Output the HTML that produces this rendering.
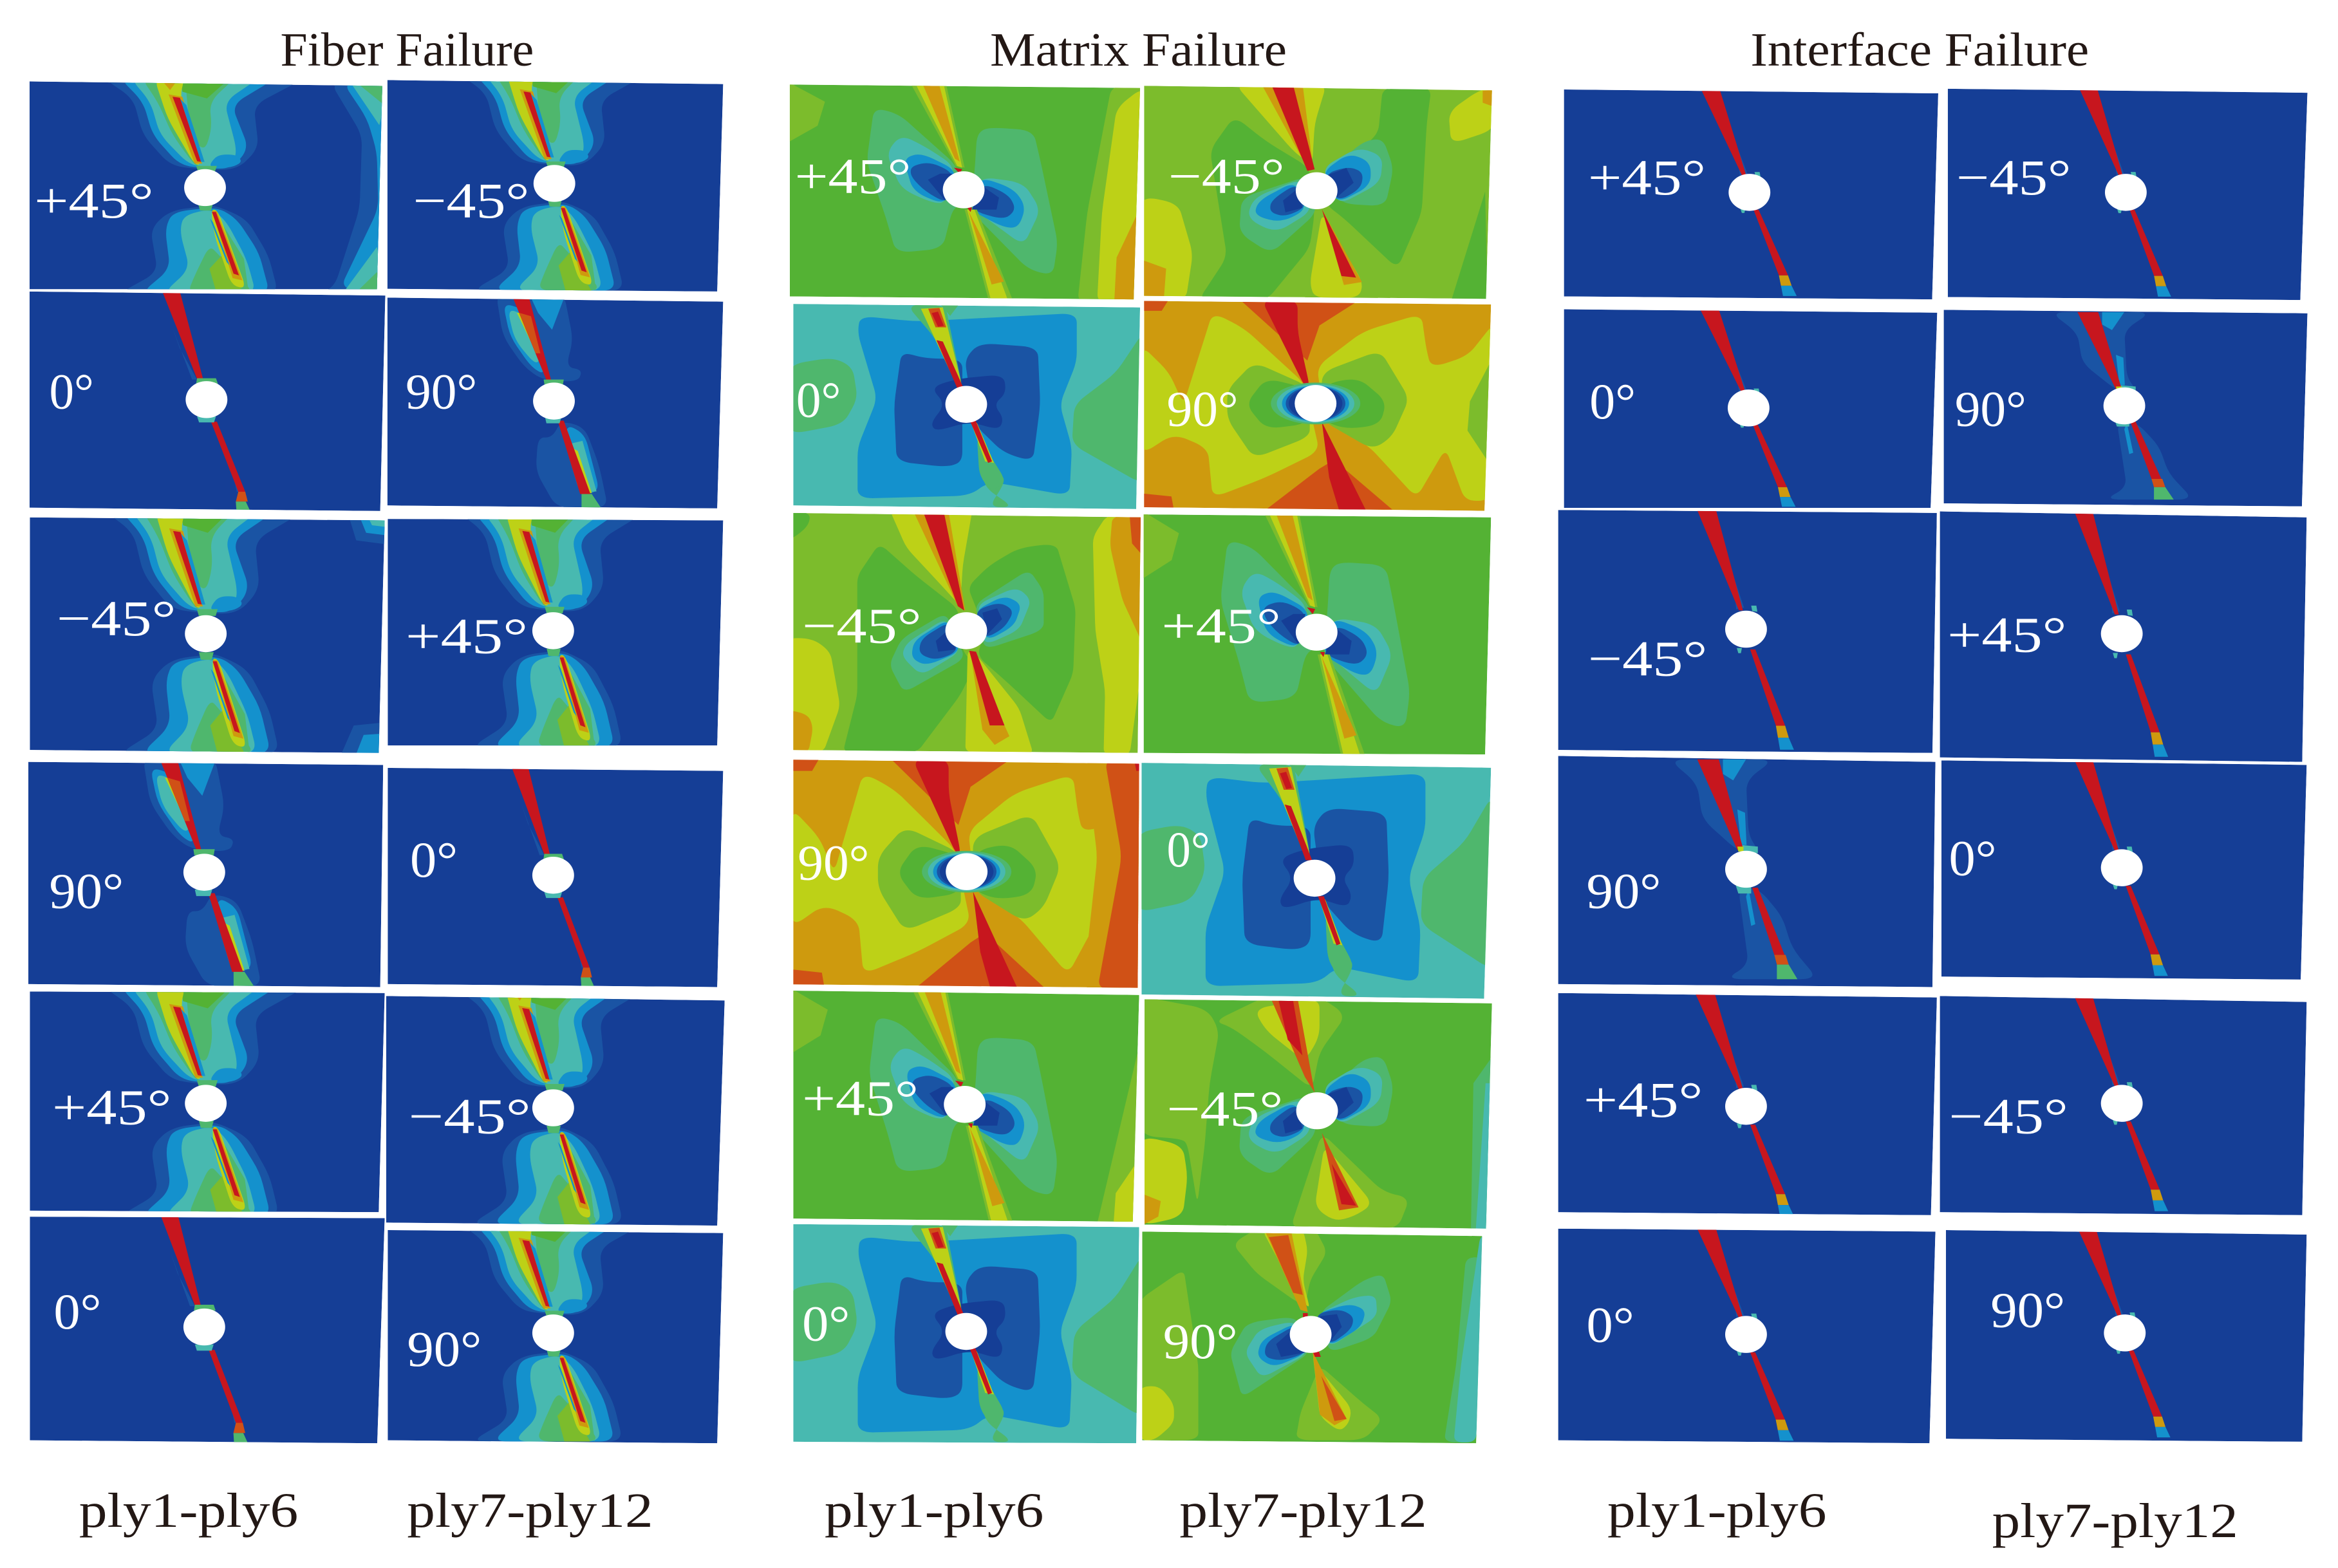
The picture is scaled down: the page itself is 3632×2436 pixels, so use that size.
<!DOCTYPE html>
<html lang="en">
<head>
<meta charset="utf-8">
<title>Fiber, Matrix and Interface Failure contours</title>
<style>
html,body{margin:0;padding:0;background:#fff;}
svg{display:block;}
text{font-family:"Liberation Serif",serif;}
</style>
</head>
<body>
<svg id="figure" xmlns="http://www.w3.org/2000/svg" width="3632" height="2436" viewBox="0 0 1568 1051.63">
  <rect x="0" y="0" width="1568" height="1051.63" fill="#ffffff"/>
  <g id="panels"></g>
  <g fill="#231815" font-size="32">
    <text x="188" y="44" textLength="170" lengthAdjust="spacingAndGlyphs">Fiber Failure</text>
    <text x="664" y="44" textLength="199" lengthAdjust="spacingAndGlyphs">Matrix Failure</text>
    <text x="1174" y="44" textLength="227" lengthAdjust="spacingAndGlyphs">Interface Failure</text>
  </g>
  <g fill="#231815" font-size="33">
    <text x="53" y="1024" textLength="147" lengthAdjust="spacingAndGlyphs">ply1-ply6</text>
    <text x="273" y="1024" textLength="165" lengthAdjust="spacingAndGlyphs">ply7-ply12</text>
    <text x="553" y="1024" textLength="147" lengthAdjust="spacingAndGlyphs">ply1-ply6</text>
    <text x="791" y="1024" textLength="166" lengthAdjust="spacingAndGlyphs">ply7-ply12</text>
    <text x="1078" y="1024" textLength="147" lengthAdjust="spacingAndGlyphs">ply1-ply6</text>
    <text x="1336" y="1031" textLength="165" lengthAdjust="spacingAndGlyphs">ply7-ply12</text>
  </g>
</svg>
<script>
var NAVY="#153e96",B2="#1a54a4",B3="#1491cd",TE="#48b9b0",G1="#4fb76d",G2="#54b234",G3="#7cbc2c",YE="#bdd117",OR="#ce9a0e",O2="#d05116",RE="#c7161e";

var fiberScale={kx:1/3.026,ky:1/4.429,refW:235,refH:139};
var matrixScale={kx:1/3.026,ky:1/5.044,refW:234,refH:140};
var matrixYScale={kx:1/3.026,ky:1/6.86,refW:233,refH:159};
var matrixGScale={kx:1/3.026,ky:1/6.9,refW:229,refH:141};
var matrixFScale={kx:1/3.026,ky:1/4.778,refW:233,refH:152};
var interfaceScale={kx:1/2.948,ky:1/5.044,refW:248,refH:139};

var F45shapes=[
[B2,"205,225 270,290 290,400 345,490 400,502 480,505 525,440 515,310 625,225"],
[B3,"240,225 290,300 310,400 365,490 420,500 470,500 505,440 470,310 565,225"],
[TE,"262,225 305,300 325,400 385,490 430,495 475,480 480,440 455,300 530,225"],
[G1,"375,225 380,300 385,400 415,450 430,380 425,300 480,225"],
[G1,"285,225 320,300 350,400 395,490 405,490 365,290 345,225"],
[G2,"365,225 370,270 420,290 470,225"],
[B3,"425,488 442,458 480,458 492,480 470,497 432,497"],
[G1,"398,492 440,492 436,510 402,510"],
[YE,"312,225 340,350 395,488 408,488 365,285 375,225"],
[OR,"342,278 370,285 410,485 395,485"],
[RE,"350,285 365,288 408,480 400,478"],
[B3,"366,292 378,310 415,480 408,480"],
[B2,"345,625 305,680 320,810 240,875 565,875 545,760 500,650 440,612 420,612"],
[B3,"350,630 335,680 345,800 285,875 548,875 525,750 480,650 440,615"],
[TE,"372,640 365,690 385,800 330,875 520,875 500,770 460,660 430,620"],
[G1,"395,820 425,730 445,760 490,830 515,875 380,875"],
[G1,"440,640 495,770 505,875 460,800"],
[G3,"425,800 450,760 495,875 440,875"],
[YE,"428,622 442,625 500,860 470,850 435,700"],
[OR,"430,625 440,628 492,835 472,828"],
[RE,"430,630 438,630 485,820 474,815"],
[B3,"426,650 432,660 466,790 460,780"],
[G1,"402,606 432,606 428,626 406,626"]
];
var F45topOrange=[[OR,"322,225 345,265 365,225"]];
var F45sideShapes=[
[B2,"670,240 735,400 730,620 680,850 650,875 790,875 790,240"],
[B3,"695,240 745,350 765,450 768,620 690,860 790,875 790,240"],
[TE,"715,250 770,370 790,250"],
[G1,"730,250 780,310 790,250"],
[TE,"695,875 765,735 790,875"],
[G1,"720,875 765,810 790,875"],
[OR,"322,225 345,265 365,225"]
];
var F45cornerShapes=[
[B2,"700,225 720,310 790,322 790,225"],
[B3,"720,225 740,290 790,298 790,225"],
[TE,"735,225 752,270 790,276 790,225"],
[B2,"690,875 715,800 790,790 790,875"],
[B3,"720,875 735,825 790,820 790,875"]
];
var F0shapes=[
[B2,"350,980 365,1040 400,1130 390,1130"],
[B2,"462,1330 490,1450 480,1450"],
[RE,"322,850 360,850 412,1128 400,1128"],
[RE,"428,1250 440,1250 497,1450 483,1450"],
[O2,"483,1450 497,1450 502,1478 478,1478"],
[G1,"478,1478 498,1478 512,1520 480,1520"],
[G1,"400,1126 438,1126 442,1142 398,1142"],
[TE,"400,1235 438,1235 434,1252 404,1252"]
];
var F90shapes=[
[B2,"1000,870 1015,1000 1060,1090 1100,1130 1175,1135 1185,1100 1150,1090 1165,1010 1145,870"],
[B3,"1015,900 1030,1000 1075,1090 1105,1115 1095,1000 1060,920"],
[B3,"1070,870 1150,870 1120,980 1090,930"],
[TE,"1025,920 1040,1010 1085,1085 1098,1060 1055,930"],
[YE,"1045,930 1090,1060 1098,1050 1068,930"],
[RE,"1032,870 1068,870 1118,1130 1108,1130"],
[O2,"1050,930 1075,940 1095,1050 1085,1050"],
[G1,"1102,1128 1145,1128 1143,1145 1104,1145"],
[B2,"1090,1300 1085,1400 1130,1510 1240,1510 1220,1380 1190,1270 1140,1250 1120,1300"],
[B3,"1150,1260 1190,1290 1222,1460 1180,1470 1150,1330"],
[TE,"1155,1320 1185,1310 1215,1460 1180,1465"],
[YE,"1155,1325 1175,1340 1205,1465 1180,1465"],
[RE,"1132,1250 1145,1250 1202,1468 1180,1468"],
[G1,"1183,1468 1205,1468 1225,1510 1183,1510"],
[TE,"1105,1240 1140,1240 1136,1258 1108,1258"]
];
var M45pBase=[
[G3,"25,60 105,130 90,210 25,270"],
[G1,"205,150 255,170 310,250 375,345 385,470 365,490 345,620 250,635 230,520 190,330"],
[G1,"415,240 435,215 530,225 545,330 580,600 570,710 520,690 400,490 410,370"],
[TE,"230,300 260,240 310,280 370,345 350,470 320,465 260,420"],
[TE,"420,380 510,400 545,490 510,610 410,490"],
[B3,"265,320 300,300 375,360 350,475 285,430"],
[B3,"420,380 490,420 515,480 500,550 470,550 400,490"],
[B2,"280,345 320,330 370,370 355,470 310,430 280,380"],
[B2,"425,400 480,440 495,490 470,525 400,490"],
[NAVY,"315,390 340,370 365,370 350,460"],
[NAVY,"425,410 460,450 455,490 405,490"],
[G3,"275,55 350,55 390,350 372,345"],
[YE,"285,55 345,55 385,350 375,345"],
[OR,"300,55 335,55 380,330 370,320"],
[RE,"368,350 385,355 380,370"],
[G3,"390,490 415,490 490,800 440,800"],
[YE,"395,490 410,490 480,800 445,800"],
[OR,"398,495 470,730 445,740"],
[RE,"395,483 405,483 402,498"]
];
var M45pRight=[
[G3,"620,805 640,500 690,75 755,75 745,805"],
[YE,"660,805 670,500 700,150 755,80 745,805"],
[OR,"695,805 700,650 755,460 745,805"]
];
var M45pRightSmall=[
[G3,"660,805 700,550 755,200 745,805"],
[YE,"695,805 700,700 745,600 735,805"]
];
var M45nButterfly=[
[G1,"1090,375 950,450 945,570 1010,640 1105,500"],
[G1,"1130,360 1200,260 1240,250 1262,350 1245,480 1150,470"],
[TE,"1075,385 975,450 960,520 1020,570 1095,495"],
[TE,"1115,350 1190,280 1240,310 1235,400 1150,475"],
[B3,"1060,395 985,460 975,510 1030,535 1085,490"],
[B3,"1115,365 1170,300 1215,330 1215,410 1145,470"],
[B2,"1065,400 1010,460 1008,500 1040,515 1085,480"],
[B2,"1120,370 1170,345 1200,365 1195,420 1145,465"],
[NAVY,"1065,420 1035,460 1040,500 1075,485"],
[NAVY,"1125,375 1165,350 1180,400 1145,450"]
];
var M45nShapes=[
[G2,"860,800 920,650 885,290 935,175 1000,260 1090,350 1100,500 1090,620 1000,800"],
[G2,"1135,350 1230,240 1240,75 1340,75 1330,200 1320,500 1270,690 1160,520 1120,470"],
[G2,"1450,430 1380,800 1455,800"]
];
var M45nStrips=[
[YE,"935,65 1125,65 1100,200 1095,340 1060,300"],
[OR,"990,65 1075,65 1097,350 1085,350"],
[RE,"1010,65 1055,65 1100,355 1085,360"],
[G3,"1110,500 1220,700 1230,790 1080,790"],
[YE,"1115,500 1200,740 1190,790 1100,790 1090,740"],
[OR,"1115,490 1197,735 1160,745"],
[RE,"1115,490 1185,720 1155,715"],
[YE,"745,445 820,470 850,640 835,800 745,800"],
[OR,"745,660 795,690 790,800 745,800"],
[YE,"1375,160 1440,85 1470,85 1470,220 1380,270"],
[OR,"1445,90 1470,85 1470,145 1445,130"]
];
var M45yShapes=[
[G2,"170,350 215,200 290,350 375,500 385,700 410,760 380,900 290,1170 140,1170 170,900"],
[G2,"395,400 440,300 500,220 575,200 615,500 610,800 565,1030 480,850 415,720 430,600"],
[G2,"25,40 75,60 70,120 40,175 25,180"],
[G1,"350,520 260,640 235,760 265,890 390,730"],
[G1,"410,480 520,320 550,420 550,600 430,690"],
[TE,"350,545 270,660 260,720 300,810 380,700"],
[TE,"415,480 495,400 525,460 500,600 430,670"],
[B3,"355,550 285,650 280,730 310,765 380,700"],
[B3,"410,510 470,440 505,480 490,580 435,650"],
[B2,"358,560 300,640 295,710 330,740 375,700"],
[B2,"410,510 460,470 490,510 470,590 430,640"],
[NAVY,"360,590 330,650 335,700 370,690"],
[NAVY,"425,520 455,500 465,550 435,620"],
[YE,"235,40 405,40 385,300 380,490 340,390 270,220"],
[OR,"282,40 355,40 390,510 375,490"],
[RE,"302,40 345,40 388,510 375,490"],
[YE,"395,690 415,720 500,960 530,1180 390,1170"],
[OR,"400,695 480,1090 450,1130 425,1060"],
[RE,"398,695 412,700 470,1040 440,1040"],
[YE,"650,170 680,65 755,65 755,680 725,1180 672,1180 675,880 655,600"],
[OR,"690,70 755,70 755,680 710,460 685,210"],
[O2,"725,70 755,70 755,265 730,200"],
[YE,"25,635 80,640 115,700 135,950 100,1170 25,1170"],
[OR,"25,965 70,990 80,1050 70,1170 25,1170"]
];
var M45gShapes=[
[G3,"740,390 830,250 860,700 860,1050 740,1050"],
[G3,"930,130 980,60 1100,60 1125,170 1090,300 1080,420 1060,400 980,270"],
[G3,"1110,700 1200,880 1240,950 1200,1050 1060,1050 1070,920"],
[YE,"740,800 780,795 810,880 810,970 770,1050 740,1050"],
[G1,"1060,470 960,500 925,640 950,850 1090,640"],
[G1,"1110,450 1200,300 1240,270 1258,400 1220,570 1130,640"],
[TE,"1060,490 985,530 955,640 990,760 1085,645"],
[TE,"1105,460 1180,380 1225,370 1228,470 1130,615"],
[B3,"1060,500 990,580 980,660 1015,710 1085,640"],
[B3,"1100,460 1170,410 1205,440 1195,520 1130,610"],
[B2,"1060,510 1000,590 995,660 1030,680 1085,640"],
[B2,"1100,460 1150,435 1180,470 1175,530 1130,605"],
[NAVY,"1060,520 1020,600 1030,660 1080,640"],
[NAVY,"1110,470 1145,460 1155,520 1130,590"],
[YE,"990,60 1075,60 1085,160 1075,300 1090,440 1060,360"],
[OR,"995,60 1050,60 1085,450 1070,440"],
[O2,"1005,100 1045,90 1075,370 1055,360"],
[RE,"1075,455 1085,455 1085,475 1075,475"],
[YE,"1095,640 1110,720 1175,900 1170,970 1150,1010 1110,940"],
[OR,"1095,635 1165,950 1140,980 1110,930"],
[O2,"1113,750 1165,950 1140,960"],
[RE,"1095,635 1108,635 1112,660 1100,660"],
[G1,"1365,1060 1390,700 1410,200 1440,190 1425,1060"],
[TE,"1385,1060 1400,700 1440,90 1470,90 1430,1060"]
];
var M45fShapes=[
[G3,"745,820 880,860 905,930 885,1100 875,1300 860,1490 840,1300 830,1280 745,1270"],
[G3,"895,900 930,920 1000,1000 1095,1120 1110,1000 1165,880 1110,820 1000,820"],
[G3,"1115,1260 1240,1450 1295,1470 1270,1570 1050,1570 1075,1450"],
[YE,"745,1270 830,1300 840,1400 830,1530 745,1560"],
[OR,"745,1455 785,1480 780,1530 745,1560"],
[YE,"975,860 1110,825 1110,950 1080,1030 1000,930"],
[O2,"1010,825 1065,825 1100,1130 1080,1080"],
[RE,"1025,825 1055,825 1075,1010 1045,960"],
[YE,"1120,1300 1220,1490 1180,1530 1140,1545 1100,1500"],
[O2,"1115,1260 1190,1500 1150,1510"],
[RE,"1135,1360 1185,1495 1155,1490"],
[G1,"1425,1100 1470,1000 1470,1570 1420,1570"],
[TE,"1450,1100 1470,1100 1470,1570 1430,1570"]
];
var M0shapes=[
[G1,"30,1010 120,985 160,1020 170,1130 140,1220 30,1255"],
[G1,"755,900 755,1430 610,1290 615,1150 700,1040"],
[B3,"175,840 290,860 620,830 620,1000 585,1150 610,1300 605,1470 440,1420 400,1470 170,1480 170,1300 210,1130 170,900"],
[B2,"260,965 310,990 385,990 385,1350 355,1370 250,1350 245,1150"],
[B2,"390,990 420,935 540,950 545,1150 530,1350 470,1320 410,1220"],
[NAVY,"320,1090 375,1060 470,1045 475,1110 450,1150 470,1200 460,1240 400,1210 330,1245 320,1215 350,1150"],
[G1,"270,800 350,800 385,1090 375,1090 330,920"],
[G1,"340,800 378,800 360,840"],
[YE,"300,815 345,810 385,1090 375,1090"],
[O2,"315,815 338,812 352,880 330,880"],
[RE,"322,830 335,825 347,875 335,878"],
[RE,"332,925 345,930 388,1095 375,1095"],
[G1,"425,1350 470,1400 470,1430 440,1510 490,1510 430,1440"],
[G1,"415,1260 450,1350 475,1420 445,1455 420,1400"],
[YE,"403,1215 415,1215 450,1355 432,1350"],
[RE,"400,1205 412,1205 446,1350 438,1355"]
];
var M90shapes=[
[O2,"945,790 1195,790 1110,880 1085,1000"],
[O2,"1000,1510 1110,1370 1140,1340 1260,1510"],
[RE,"990,790 1065,790 1065,900 1090,1090 1080,1090"],
[RE,"1115,1210 1205,1510 1150,1510 1130,1400"],
[O2,"745,790 800,790 785,830 745,830"],
[O2,"745,1455 805,1465 810,1510 745,1510"],
[YE,"890,835 955,890 1080,1080 1095,1200 1110,1310 1000,1400 890,1470 880,1300 810,1250 745,1320 745,950 800,1040 830,1150"],
[YE,"1105,1020 1200,900 1320,840 1330,960 1340,1025 1415,985 1470,870 1460,1480 1410,1480 1370,1300 1310,1470 1210,1290 1120,1210"],
[G3,"975,1005 1090,1090 1090,1210 1090,1260 975,1335 920,1200 920,1100"],
[G3,"1115,1040 1235,965 1295,1130 1260,1260 1220,1305 1115,1205"],
[G3,"1420,1140 1470,980 1455,1340 1415,1240"],
[G2,"1000,1060 1085,1095 1090,1215 1000,1235 958,1150"],
[G2,"1120,1080 1190,1058 1248,1140 1235,1220 1165,1235 1115,1205"]
];
var M90sideShapes=[
[OR,"1345,790 1370,1100 1340,1520 1470,1520 1470,790"],
[O2,"1385,790 1420,1100 1370,1520 1470,1520 1470,790"],
[RE,"1445,790 1470,790 1470,830 1450,830"]
];
var I0shapes=[
[B2,"378,270 400,370 385,375"],
[RE,"305,70 343,70 398,378 390,378"],
[RE,"412,492 422,492 480,715 462,715"],
[OR,"462,715 480,715 487,750 466,750"],
[B3,"466,750 487,750 497,785 470,785"],
[TE,"414,364 424,364 426,382 416,380"],
[TE,"386,488 396,488 394,503 389,503"]
];
var I90shapes=[
[B2,"995,815 1050,890 1060,1000 1130,1100 1170,1100 1150,1050 1145,880 1200,815"],
[B2,"1130,1215 1150,1450 1105,1495 1285,1495 1235,1400 1215,1300 1170,1215"],
[B3,"1100,815 1145,815 1120,880 1100,860"],
[B3,"1128,970 1143,980 1146,1080 1135,1080"],
[B3,"1150,1215 1163,1325 1155,1330 1145,1240"],
[TE,"1135,1080 1168,1085 1168,1105 1135,1105"],
[TE,"1125,1205 1155,1205 1155,1230 1130,1230"],
[RE,"1050,815 1092,815 1140,1095 1128,1095"],
[RE,"1157,1212 1168,1212 1220,1420 1200,1420"],
[O2,"1200,1420 1222,1420 1228,1450 1205,1450"],
[G1,"1205,1450 1228,1450 1245,1495 1205,1495"],
[YE,"1128,1085 1140,1085 1140,1100 1130,1100"]
];

function shiftShapes(list,dx,dy){
  return list.map(function(s){
    return [s[0],s[1].split(" ").map(function(p){
      var a=p.split(",");
      return (+a[0]+dx)+","+(+a[1]+dy);
    }).join(" ")];
  });
}

var templates={
 F45:{base:NAVY,ox:416,oy:557,scale:fiberScale,layers:[F45shapes,F45sideShapes]},
 F45b:{base:NAVY,ox:416,oy:557,scale:fiberScale,layers:[F45shapes]},
 F45c:{base:NAVY,ox:416,oy:557,scale:fiberScale,layers:[F45shapes,F45topOrange]},
 F45d:{base:NAVY,ox:416,oy:557,scale:fiberScale,layers:[F45shapes,F45cornerShapes]},
 F0:{base:NAVY,ox:419,oy:1187,scale:fiberScale,layers:[F0shapes]},
 F90:{base:NAVY,ox:1124,oy:1192,scale:fiberScale,layers:[F90shapes]},
 M45p:{base:G2,ox:388,oy:424,scale:matrixScale,layers:[M45pBase,M45pRight]},
 M45pPlain:{base:G2,ox:388,oy:424,scale:matrixScale,layers:[M45pBase]},
 M45pSmall:{base:G2,ox:388,oy:424,scale:matrixScale,layers:[M45pBase,M45pRightSmall]},
 M45n:{base:G3,ox:1104,oy:427,scale:matrixScale,layers:[M45nShapes,M45nButterfly,M45nStrips]},
 M45y:{base:G3,ox:392,oy:603,scale:matrixYScale,layers:[M45yShapes]},
 M45g:{base:G2,ox:1091,oy:555,scale:matrixGScale,layers:[M45gShapes]},
 M45f:{base:G2,ox:1105,oy:1189,scale:matrixFScale,layers:[M45fShapes,shiftShapes(M45nButterfly,0,762)]},
 M0:{base:TE,ox:393,oy:1150,scale:matrixScale,layers:[M0shapes]},
 M90:{base:OR,ox:1102,oy:1147,scale:matrixScale,layers:[M90shapes],rings:true},
 M90r:{base:OR,ox:1102,oy:1147,scale:matrixScale,layers:[M90shapes,M90sideShapes],rings:true},
 I0:{base:NAVY,ox:404,oy:433,scale:interfaceScale,layers:[I0shapes]},
 I90:{base:NAVY,ox:1145,oy:1155,scale:interfaceScale,layers:[I90shapes]}
};

/* name, template, holeX, holeY, corners TL TR BR BL, label, labelX, labelBaseline, labelWidth */
var panelRows=[
["fiber-a1","F45",137.5,125.8,[19.8,54.6,256.4,57.6,252.8,194,19.8,194],"+45°",23,146,80],
["fiber-b1","F45b",371.8,123,[259.8,53.7,485,56.4,481,195.5,259.8,193.7],"−45°",277,146,78],
["fiber-a2","F0",138.5,268,[19.8,195.5,258.4,198.2,255,342.7,19.8,340.5],"0°",33,274,30],
["fiber-b2","F90",371.5,269,[259.8,199.6,485,202.3,481,341,259.8,339],"90°",272,274,48],
["fiber-a3","F45d",138,425,[20,347,258,349,254,505,20,503],"−45°",38,426,80],
["fiber-b3","F45b",371,423,[260,348,485,349,481,500,260,500],"+45°",272,438,82],
["fiber-a4","F90",137,585,[19,511,257,513,255,662,19,660],"90°",33,609,50],
["fiber-b4","F0",371,587,[260,515,485,517,481,662,260,660],"0°",275,588,32],
["fiber-a5","F45b",138,740,[20,665,258,666,254,813,20,812],"+45°",35,754,80],
["fiber-b5","F45c",371,743,[259,668,486,671,481,822,259,820],"−45°",274,760,82],
["fiber-a6","F0",137,890,[20,816,258,817,253,968,20,966],"0°",36,891,32],
["fiber-b6","F45b",371,894,[260,825,485,827,481,968,260,966],"90°",273,916,50],

["matrix-a1","M45p",646.3,127.3,[529.7,56.7,764.6,59,760.3,200.8,529.7,198.8],"+45°",533,129.4,78],
["matrix-b1","M45n",883,127.9,[767.3,57.5,1000.6,60.6,996.6,200.4,767.3,198.4],"−45°",783.5,129.4,78],
["matrix-a2","M0",648,271.2,[532,203.8,764.6,206.2,762,341.4,532,339],"0°",534,279.5,30],
["matrix-b2","M90",882.3,270.6,[767.3,201.8,1000,204.2,995.6,342.6,767.3,340.2],"90°",782.5,285.5,48],
["matrix-a3","M45y",648,423,[532,344,765,347,763,505,532,503],"−45°",538,431,80],
["matrix-b3","M45pPlain",883,424,[767,345,1000,347,996,506,767,505],"+45°",779,431,80],
["matrix-a4","M90r",648.3,584.6,[532,509.5,764,512.2,763,662.5,532,660.2],"90°",535,590,48],
["matrix-b4","M0",881.6,589,[765.6,511.6,1000,514.9,995.3,669.8,765.6,667],"0°",782.5,581,29],
["matrix-a5","M45pSmall",647,740.7,[532,664.4,764,667.3,759.7,819.4,532,817.3],"+45°",538,748,78],
["matrix-b5","M45f",883.3,745,[767.6,670.2,1000.6,672.9,996.6,824,767.6,821.3],"−45°",782.5,755,78],
["matrix-a6","M0",648,893,[532,821,764,823,762,968,532,967],"0°",538,899,32],
["matrix-b6","M45g",879,895,[766,826,994,829,990,968,766,966],"90°",780,911,50],

["interface-a1","I0",1173.3,129,[1048.9,60,1299.9,62.6,1295.8,200.8,1048.9,198.8],"+45°",1065,130.4,79],
["interface-b1","I0",1425.7,129,[1306.3,59.5,1547.5,62.2,1542.7,201.2,1306.3,199.2],"−45°",1312,130.4,77],
["interface-a2","I0",1172.7,273.6,[1048.9,207.4,1299.2,209.7,1294.8,340.6,1048.9,340.6],"0°",1066,280.5,31],
["interface-b2","I90",1424.7,272.2,[1303.6,207.8,1547.5,210.1,1543.8,339.6,1303.6,337.6],"90°",1311,285.5,48],
["interface-a3","I0",1171,422,[1045,342,1299,344,1296,505,1045,503],"−45°",1065,453,80],
["interface-b3","I0",1423,425,[1301,343,1547,347,1544,511,1301,508],"+45°",1306,437,80],
["interface-a4","I90",1171,583,[1045,507,1298,511,1296,662,1045,660],"90°",1064,609,50],
["interface-b4","I0",1423,582,[1302,510,1547,513,1543,657,1302,655],"0°",1307,587,32],
["interface-a5","I0",1171,742,[1045,666,1299,669,1295,815,1045,813],"+45°",1062,749,80],
["interface-b5","I0",1423,740,[1301,668,1547,672,1544,815,1301,813],"−45°",1307,760,80],
["interface-a6","I0",1171,895,[1045,824,1298,826,1294,968,1045,966],"0°",1064,900,32],
["interface-b6","I0",1425,894,[1305,825,1547,828,1544,967,1305,965],"90°",1335,890,50]
];

var CORNER_RADIUS=34;
var SVGNS="http://www.w3.org/2000/svg";
function mk(tag){return document.createElementNS(SVGNS,tag);}
function roundedPath(ptStr){
  var pts=ptStr.split(" ").map(function(p){var a=p.split(",");return [+a[0],+a[1]];});
  var n=pts.length,d="";
  if(n<5){
    pts.forEach(function(p,i){d+=(i?"L":"M")+p[0]+" "+p[1]+" ";});
    return d+"Z";
  }
  for(var i=0;i<n;i++){
    var v=pts[i],a=pts[(i+n-1)%n],b=pts[(i+1)%n];
    var la=Math.hypot(a[0]-v[0],a[1]-v[1]),lb=Math.hypot(b[0]-v[0],b[1]-v[1]);
    var da=Math.min(CORNER_RADIUS,la*0.45),db=Math.min(CORNER_RADIUS,lb*0.45);
    var sx=v[0]+(a[0]-v[0])*da/la,sy=v[1]+(a[1]-v[1])*da/la;
    var ex=v[0]+(b[0]-v[0])*db/lb,ey=v[1]+(b[1]-v[1])*db/lb;
    d+=(i?"L":"M")+sx.toFixed(1)+" "+sy.toFixed(1)+" Q"+v[0]+" "+v[1]+" "+ex.toFixed(1)+" "+ey.toFixed(1)+" ";
  }
  return d+"Z";
}
var root=document.getElementById("panels");
var defs=mk("defs");
root.appendChild(defs);

panelRows.forEach(function(p){
  var name=p[0],t=templates[p[1]],cx=p[2],cy=p[3],c=p[4];
  var quad=c[0]+","+c[1]+" "+c[2]+","+c[3]+" "+c[4]+","+c[5]+" "+c[6]+","+c[7];
  var clip=mk("clipPath");
  clip.setAttribute("id","clip-"+name);
  var cp=mk("polygon");
  cp.setAttribute("points",quad);
  clip.appendChild(cp);
  defs.appendChild(clip);

  var g=mk("g");
  
  
  root.appendChild(g);

  var clipped=mk("g");
  clipped.setAttribute("clip-path","url(#clip-"+name+")");
  g.appendChild(clipped);

  var base=mk("polygon");
  
  
  base.setAttribute("points",quad);
  base.setAttribute("fill",t.base);
  clipped.appendChild(base);

  var W=((c[2]-c[0])+(c[4]-c[6]))/2,H=((c[7]-c[1])+(c[5]-c[3]))/2;
  var sx=t.scale.kx*W/t.scale.refW,sy=t.scale.ky*H/t.scale.refH;
  var shapes=mk("g");
  
  
  shapes.setAttribute("transform","translate("+cx+","+cy+") scale("+sx+","+sy+") translate("+(-t.ox)+","+(-t.oy)+")");
  clipped.appendChild(shapes);
  t.layers.forEach(function(layer){
    layer.forEach(function(s){
      var band=mk("path");
      
      
      band.setAttribute("fill",s[0]);
      band.setAttribute("d",roundedPath(s[1]));
      shapes.appendChild(band);
    });
  });
  if(t.rings){
    [[G1,30,14],[TE,26,13],[B3,22.5,12],[B2,20,11.5],[NAVY,18,11]].forEach(function(r){
      var e=mk("ellipse");
      
      
      e.setAttribute("cx",cx);
      e.setAttribute("cy",cy);
      e.setAttribute("rx",r[1]);
      e.setAttribute("ry",r[2]);
      e.setAttribute("fill",r[0]);
      clipped.appendChild(e);
    });
  }

  var hole=mk("ellipse");
  
  
  hole.setAttribute("cx",cx);
  hole.setAttribute("cy",cy);
  hole.setAttribute("rx",14);
  hole.setAttribute("ry",12.4);
  hole.setAttribute("fill","#ffffff");
  g.appendChild(hole);

  var label=mk("text");
  
  
  label.setAttribute("x",p[6]);
  label.setAttribute("y",p[7]);
  label.setAttribute("fill","#ffffff");
  label.setAttribute("font-size","34");
  label.setAttribute("textLength",p[8]);
  label.setAttribute("lengthAdjust","spacingAndGlyphs");
  label.textContent=p[5];
  g.appendChild(label);
});
</script>
</body>
</html>
